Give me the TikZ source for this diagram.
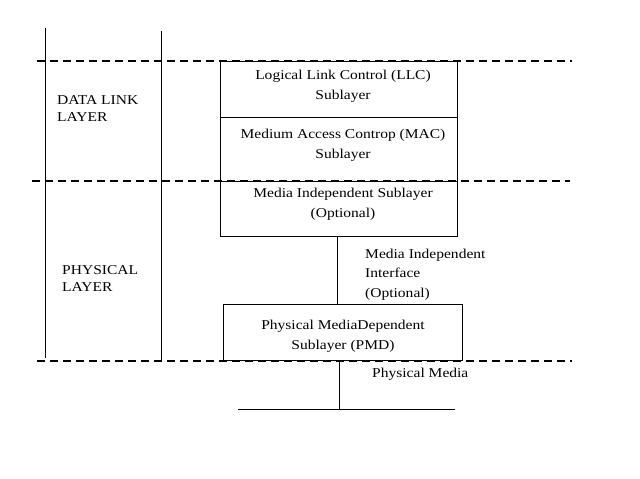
\documentclass[tikz,border=0pt]{standalone}
\usepackage{fontspec}
\setmainfont{Liberation Serif}[FakeStretch=1.15]
\begin{document}
\begin{tikzpicture}[x=1pt,y=-1pt,
  solidline/.style={line width=1pt},
  layerdash/.style={line width=1.8pt,dash pattern=on 8pt off 5pt},
  boxpart/.style={draw,line width=1pt,minimum width=237pt,inner sep=0pt,anchor=north west},
  boxtext/.style={align=center,anchor=north,inner sep=0pt,font=\fontsize{13.5}{20}\selectfont},
  lbl/.style={align=left,anchor=north west,inner sep=0pt,font=\fontsize{13.5}{19.5}\selectfont},
  sidelbl/.style={align=left,anchor=north west,inner sep=0pt,font=\fontsize{13.5}{17.5}\selectfont}]
\useasboundingbox (0,0) rectangle (640,479);
% vertical lines
\coordinate (v1t) at (45,28); \coordinate (v1b) at (45,358);
\coordinate (v2t) at (161,31); \coordinate (v2b) at (161,361);
\draw[solidline] (v1t) -- (v1b);
\draw[solidline] (v2t) -- (v2b);
% boxes
\node[boxpart,minimum height=56pt] (llc) at (220,61) {};
\node[boxpart,minimum height=64pt] (mac) at (220,117) {};
\node[boxpart,minimum height=55pt] (mis) at (220,181) {};
\node[boxpart,minimum width=239pt,minimum height=56pt] (pmd) at (223,304) {};
\node[boxtext] (llct) at (343,70) {Logical Link Control (LLC)\\Sublayer};
\node[boxtext] (mact) at (343,129) {Medium Access Controp (MAC)\\Sublayer};
\node[boxtext] (mist) at (343,188) {Media Independent Sublayer\\(Optional)};
\node[boxtext] (pmdt) at (343,320) {Physical MediaDependent\\Sublayer (PMD)};
% dashed layer lines
\coordinate (d1a) at (37,61); \coordinate (d1b) at (572,61);
\coordinate (d2a) at (32,181); \coordinate (d2b) at (570,181);
\coordinate (d3a) at (37,361); \coordinate (d3b) at (572,361);
\draw[layerdash] (d1a) -- (d1b);
\draw[layerdash] (d2a) -- (d2b);
\draw[layerdash] (d3a) -- (d3b);
% connectors
\draw[solidline] (mis.south -| 337,0) -- (pmd.north -| 337,0);
\coordinate (medtop) at (339,360);
\coordinate (medbot) at (339,409);
\draw[solidline] (medtop) -- (medbot);
\coordinate (ml) at (238,409); \coordinate (mr) at (455,409);
\draw[solidline] (ml) -- (mr);
% labels
\node[sidelbl] (dll) at (57,95) {DATA LINK\\LAYER};
\node[sidelbl] (phl) at (62,265) {PHYSICAL\\LAYER};
\node[lbl] (mii) at (365,248.5) {Media Independent\\Interface\\(Optional)};
\node[lbl] (pm) at (372,368) {Physical Media};
\end{tikzpicture}
\end{document}
